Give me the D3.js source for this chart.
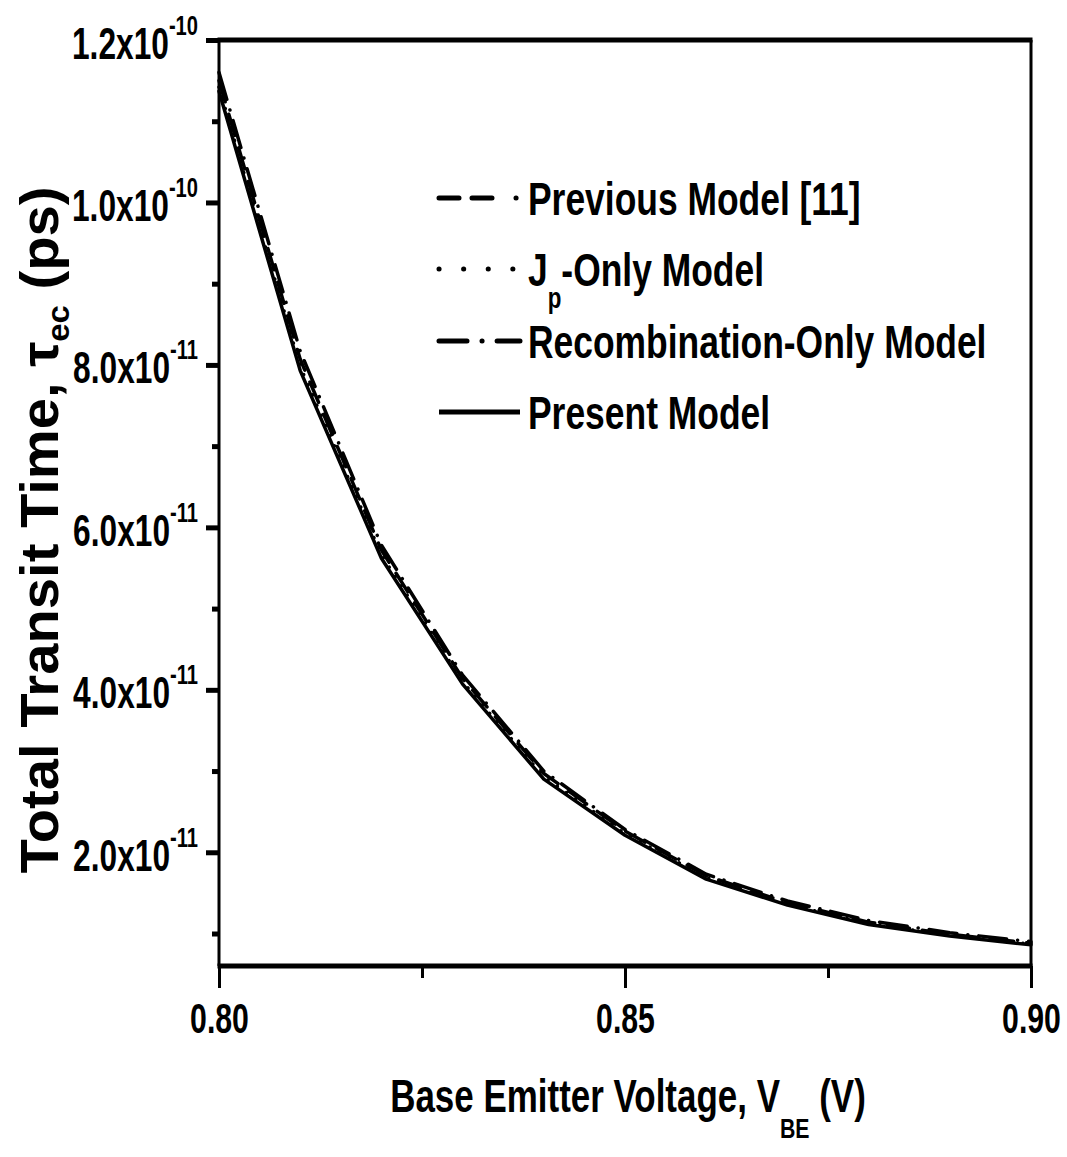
<!DOCTYPE html>
<html>
<head>
<meta charset="utf-8">
<script src="https://cdn.jsdelivr.net/npm/d3@7"></script>
<style>
  body { margin: 0; background: #fff; }
  text { font-family: "Liberation Sans", Arial, sans-serif; font-weight: bold; fill: #000; }
  .axis path, .axis line { stroke: #000; }
</style>
</head>
<body>
<svg id="chart"></svg>
<script>
// data
var vbe = [0.80, 0.81, 0.82, 0.83, 0.84, 0.85, 0.86, 0.87, 0.88, 0.89, 0.90];
var previousModel = [1.150e-10, 8.07e-11, 5.72e-11, 4.14e-11, 2.97e-11, 2.26e-11, 1.71e-11, 1.38e-11, 1.14e-11, 9.9e-12, 8.8e-12];
var jpOnlyModel   = [1.142e-10, 7.98e-11, 5.66e-11, 4.10e-11, 2.93e-11, 2.23e-11, 1.69e-11, 1.36e-11, 1.12e-11, 9.8e-12, 8.7e-12];
var recombModel   = [1.160e-10, 8.17e-11, 5.78e-11, 4.18e-11, 3.00e-11, 2.28e-11, 1.73e-11, 1.40e-11, 1.16e-11, 1.01e-11, 9.0e-12];
var presentModel  = [1.137e-10, 7.93e-11, 5.62e-11, 4.07e-11, 2.90e-11, 2.21e-11, 1.67e-11, 1.35e-11, 1.11e-11, 9.7e-12, 8.6e-12];

var xTicks = [0.80, 0.85, 0.90];
var xMinorTicks = [0.825, 0.875];
var yTicks = [2e-11, 4e-11, 6e-11, 8e-11, 1e-10, 1.2e-10];
var yTickMain = ["2.0x10", "4.0x10", "6.0x10", "8.0x10", "1.0x10", "1.2x10"];
var yTickExp = ["-11", "-11", "-11", "-11", "-10", "-10"];
var yMinorTicks = [1e-11, 3e-11, 5e-11, 7e-11, 9e-11, 1.1e-10];

var legendNames = ["Previous Model [11]", "J", "Recombination-Only Model", "Present Model"];

// dimensions
var width = 1067, height = 1157;
var plot = { left: 219, right: 1031, top: 40, bottom: 966 };
var narrow = 0.77; // horizontal squeeze to mimic a condensed bold face

var svg = d3.select("#chart")
  .attr("width", width)
  .attr("height", height);

// scales
var x = d3.scaleLinear().domain([0.80, 0.90]).range([plot.left, plot.right]);
var y = d3.scaleLinear().domain([6e-12, 1.2e-10]).range([plot.bottom, plot.top]);

// line generator
var line = d3.line()
  .x(function(d, i) { return x(vbe[i]); })
  .y(function(d) { return y(d); });

var series = [
  { values: recombModel,   dash: "28,11,0.1,11" },
  { values: previousModel, dash: "22,13" },
  { values: jpOnlyModel,   dash: "0.1,11" },
  { values: presentModel,  dash: null }
];

var gLines = svg.append("g");
series.forEach(function(s) {
  gLines.append("path")
    .attr("d", line(s.values))
    .attr("fill", "none")
    .attr("stroke", "#000")
    .attr("stroke-width", 3.5)
    .attr("stroke-linecap", "round")
    .attr("stroke-linejoin", "round")
    .attr("stroke-dasharray", s.dash);
});

// frame
svg.append("line").attr("x1", plot.left - 1.5).attr("x2", plot.right + 1.5)
  .attr("y1", plot.top).attr("y2", plot.top).attr("stroke", "#000").attr("stroke-width", 5);
svg.append("line").attr("x1", plot.left - 1.5).attr("x2", plot.right + 1.5)
  .attr("y1", plot.bottom).attr("y2", plot.bottom).attr("stroke", "#000").attr("stroke-width", 5);
svg.append("line").attr("x1", plot.left).attr("x2", plot.left)
  .attr("y1", plot.top).attr("y2", plot.bottom).attr("stroke", "#000").attr("stroke-width", 3);
svg.append("line").attr("x1", plot.right).attr("x2", plot.right)
  .attr("y1", plot.top).attr("y2", plot.bottom).attr("stroke", "#000").attr("stroke-width", 3);

// x axis
var xAxis = svg.append("g")
  .attr("class", "axis")
  .attr("transform", "translate(0," + plot.bottom + ")")
  .call(d3.axisBottom(x).tickValues(xTicks).tickSize(22).tickFormat(d3.format(".2f")));
xAxis.select(".domain").remove();
xAxis.selectAll(".tick line").attr("stroke-width", 3);
xAxis.selectAll(".tick text")
  .attr("y", null).attr("dy", null)
  .attr("transform", "translate(0,67) scale(0.72,1)")
  .attr("font-size", 42).attr("font-family", null).attr("fill", "#000");

var xMinor = svg.append("g")
  .attr("class", "axis")
  .attr("transform", "translate(0," + plot.bottom + ")")
  .call(d3.axisBottom(x).tickValues(xMinorTicks).tickSize(12).tickFormat(""));
xMinor.select(".domain").remove();
xMinor.selectAll(".tick line").attr("stroke-width", 3);

// y axis
var yAxis = svg.append("g")
  .attr("class", "axis")
  .attr("transform", "translate(" + plot.left + ",0)")
  .call(d3.axisLeft(y).tickValues(yTicks).tickSize(13).tickFormat(""));
yAxis.select(".domain").remove();
yAxis.selectAll(".tick line").attr("stroke-width", 5);
yAxis.selectAll(".tick").each(function(d, i) {
  var t = d3.select(this).append("text")
    .attr("transform", "translate(-21,18) scale(0.72,1)")
    .attr("text-anchor", "end")
    .attr("font-size", 44);
  t.append("tspan").text(yTickMain[i]);
  t.append("tspan").attr("dy", -24).attr("font-size", 28).text(yTickExp[i]);
});

var yMinor = svg.append("g")
  .attr("class", "axis")
  .attr("transform", "translate(" + plot.left + ",0)")
  .call(d3.axisLeft(y).tickValues(yMinorTicks).tickSize(7).tickFormat(""));
yMinor.select(".domain").remove();
yMinor.selectAll(".tick line").attr("stroke-width", 5);

// axis titles
var xTitle = svg.append("text")
  .attr("transform", "translate(628,1112) scale(0.76,1)")
  .attr("text-anchor", "middle")
  .attr("font-size", 46);
xTitle.append("tspan").text("Base Emitter Voltage, V");
xTitle.append("tspan").attr("dy", 26).attr("font-size", 28).text("BE");
xTitle.append("tspan").attr("dy", -26).text(" (V)");

var yTitle = svg.append("text")
  .attr("transform", "translate(58,530) rotate(-90) scale(1.06,1)")
  .attr("text-anchor", "middle")
  .attr("font-size", 53);
yTitle.append("tspan").text("Total Transit Time, \u03C4");
yTitle.append("tspan").attr("dy", 11).attr("font-size", 31).text("ec");
yTitle.append("tspan").attr("dy", -11).text(" (ps)");

// legend
var legendY = [198, 269, 341, 412];
var legendDash = ["20,13,20,24,0.1", "0.1,24.5", "28,15,0.1,15", null];
var legend = svg.append("g");
legendNames.forEach(function(name, i) {
  legend.append("line")
    .attr("x1", 439).attr("x2", 520)
    .attr("y1", legendY[i]).attr("y2", legendY[i])
    .attr("stroke", "#000")
    .attr("stroke-width", 5)
    .attr("stroke-linecap", legendDash[i] ? "round" : "butt")
    .attr("stroke-dasharray", legendDash[i]);
  var t = legend.append("text")
    .attr("transform", "translate(528," + (legendY[i] + 17) + ") scale(" + narrow + ",1)")
    .attr("font-size", 46);
  if (i === 1) {
    t.append("tspan").text("J");
    t.append("tspan").attr("dy", 22).attr("font-size", 29).text("p");
    t.append("tspan").attr("dy", -22).text("-Only Model");
  } else {
    t.text(name);
  }
});
</script>
</body>
</html>
